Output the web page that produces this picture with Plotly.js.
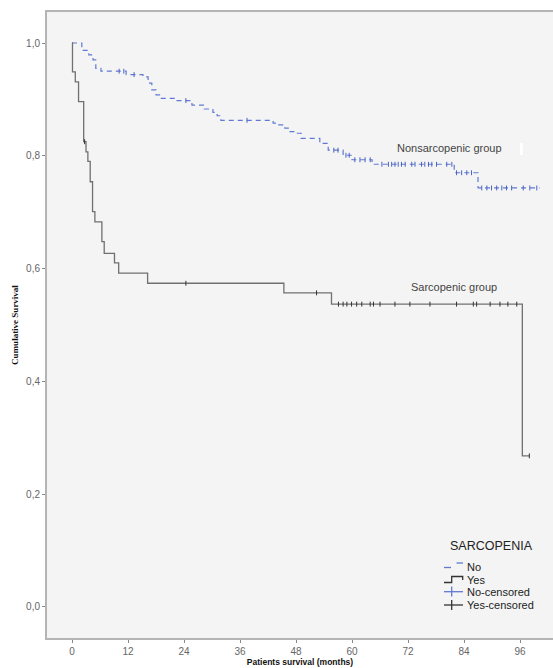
<!DOCTYPE html>
<html>
<head>
<meta charset="utf-8">
<script src="https://cdn.plot.ly/plotly-3.0.1.min.js"></script>
<style>html,body{margin:0;padding:0;background:#fff;}#chart{width:553px;height:668px;}</style>
</head>
<body>
<div id="chart"></div>
<script>
// ---- Data (months, cumulative survival) ----
const timesNo = [0, 2.1, 3.6, 4.5, 5.1, 6.2, 11.6, 15.2, 16.3, 17.1, 18.0, 18.9, 22.3, 25.7, 28.3, 30.2, 31.1, 31.9, 43.1, 43.9, 45.6, 46.5, 47.8, 49.1, 53.1, 54.9, 58.1, 60.0, 64.3, 81.9, 87.0];
const survNo  = [1.0, 0.987, 0.979, 0.970, 0.955, 0.950, 0.944, 0.940, 0.929, 0.917, 0.908, 0.902, 0.898, 0.890, 0.883, 0.877, 0.871, 0.863, 0.858, 0.855, 0.849, 0.843, 0.840, 0.831, 0.822, 0.810, 0.801, 0.793, 0.785, 0.770, 0.743];
const endNo = 100.2;
const censorNo = [10.1, 11.1, 13.3, 24.4, 37.5, 56.1, 57.0, 58.7, 59.4, 60.6, 61.7, 62.8, 63.9, 66.4, 67.8, 68.5, 69.2, 69.9, 70.6, 71.4, 72.8, 73.5, 74.9, 75.6, 76.4, 77.1, 78.1, 80.3, 81.4, 82.4, 83.5, 84.6, 85.6, 87.8, 88.9, 89.9, 91.0, 92.1, 93.1, 94.2, 96.7, 98.1, 99.6];

const timesYes = [0, 0.1, 0.7, 1.4, 2.5, 3.0, 3.4, 3.9, 4.4, 4.9, 6.4, 6.9, 9.1, 10.0, 16.2, 45.4, 55.6, 96.5];
const survYes  = [1.0, 0.949, 0.931, 0.896, 0.825, 0.807, 0.790, 0.754, 0.701, 0.683, 0.648, 0.627, 0.610, 0.592, 0.574, 0.557, 0.537, 0.268];
const endYes = 98.0;
const censorYes = [2.7, 24.4, 52.4, 57.1, 58.1, 58.9, 59.9, 61.0, 62.1, 63.9, 64.6, 66.0, 69.2, 72.4, 76.7, 82.4, 86.0, 86.7, 89.6, 91.7, 93.4, 95.3, 98.0];

const xTicks = [0, 12, 24, 36, 48, 60, 72, 84, 96];
const yTicks = [0, 0.2, 0.4, 0.6, 0.8, 1.0];

const legendTitle = "SARCOPENIA";
const legendLabels = ["No", "Yes", "No-censored", "Yes-censored"];
const groupLabels = ["Nonsarcopenic group", "Sarcopenic group"];

// ---- helpers ----
function stepAt(times, surv, t) {
  let s = surv[0];
  for (let i = 0; i < times.length; i++) { if (times[i] <= t) s = surv[i]; }
  return s;
}
const BLUE = '#6079d2';
const GREY = '#707070';

const traces = [
  {x: timesNo.concat([endNo]), y: survNo.concat([survNo[survNo.length-1]]), mode: 'lines',
   line: {shape: 'hv', color: BLUE, width: 1.2, dash: '5px,4px'}, showlegend: false, hoverinfo: 'skip'},
  {x: timesYes.concat([endYes]), y: survYes.concat([survYes[survYes.length-1]]), mode: 'lines',
   line: {shape: 'hv', color: GREY, width: 1.3}, showlegend: false, hoverinfo: 'skip'},
  {x: censorNo, y: censorNo.map(t => stepAt(timesNo, survNo, t)), mode: 'markers',
   marker: {symbol: 'line-ns', size: 3.5, line: {color: '#4a63c2', width: 1}}, showlegend: false, hoverinfo: 'skip'},
  {x: censorYes, y: censorYes.map(t => stepAt(timesYes, survYes, t)), mode: 'markers',
   marker: {symbol: 'line-ns', size: 3.5, line: {color: '#333', width: 1}}, showlegend: false, hoverinfo: 'skip'}
];

// pixel -> paper conversion for decorations
const L = 47, R = 553, T = 12, B = 638;
const px = x => (x - L) / (R - L);
const py = y => (B - y) / (B - T);

const shapes = [
  {type: 'rect', xref: 'paper', yref: 'paper', x0: px(520), x1: px(523), y0: py(155), y1: py(143), fillcolor: '#ffffff', line: {width: 0}},
  {type: 'line', xref: 'paper', yref: 'paper', x0: px(444), x1: px(451), y0: py(567.5), y1: py(567.5), line: {color: BLUE, width: 1.3}},
  {type: 'line', xref: 'paper', yref: 'paper', x0: px(456.5), x1: px(463), y0: py(563), y1: py(563), line: {color: BLUE, width: 1.3}},
  {type: 'path', xref: 'paper', yref: 'paper',
   path: `M${px(444)},${py(582.5)} L${px(451.7)},${py(582.5)} L${px(451.7)},${py(576.5)} L${px(462.7)},${py(576.5)} L${px(462.7)},${py(580)}`,
   line: {color: '#333', width: 1.3}},
  {type: 'line', xref: 'paper', yref: 'paper', x0: px(444), x1: px(463), y0: py(591.7), y1: py(591.7), line: {color: BLUE, width: 1.3}},
  {type: 'line', xref: 'paper', yref: 'paper', x0: px(451.7), x1: px(451.7), y0: py(586.5), y1: py(596.5), line: {color: BLUE, width: 1.3}},
  {type: 'line', xref: 'paper', yref: 'paper', x0: px(444), x1: px(463), y0: py(605), y1: py(605), line: {color: '#333', width: 1.3}},
  {type: 'line', xref: 'paper', yref: 'paper', x0: px(451.7), x1: px(451.7), y0: py(600), y1: py(610), line: {color: '#333', width: 1.3}}
];

const labFont = {family: 'Liberation Sans, Arial, sans-serif', size: 11, color: '#222'};
const annotations = [
  {xref: 'paper', yref: 'paper', x: px(449), y: py(148), text: groupLabels[0], showarrow: false, xanchor: 'center', yanchor: 'middle',
   font: {family: 'Liberation Sans, Arial, sans-serif', size: 11, color: '#444'}},
  {xref: 'paper', yref: 'paper', x: px(454), y: py(287), text: groupLabels[1], showarrow: false, xanchor: 'center', yanchor: 'middle',
   font: {family: 'Liberation Sans, Arial, sans-serif', size: 11, color: '#444'}},
  {xref: 'paper', yref: 'paper', x: px(491), y: py(546), text: legendTitle, showarrow: false, xanchor: 'center', yanchor: 'middle',
   font: {family: 'Liberation Sans, Arial, sans-serif', size: 12.5, color: '#222'}}
];
const legY = [567, 579.5, 592, 605];
legendLabels.forEach((lab, i) => annotations.push({xref: 'paper', yref: 'paper', x: px(465), y: py(legY[i]), text: lab,
  showarrow: false, xanchor: 'left', yanchor: 'middle', font: labFont}));

const tickFont = {family: 'Liberation Sans, Arial, sans-serif', size: 10, color: '#666'};
const layout = {
  width: 553, height: 668,
  margin: {l: L, r: 0, t: T, b: 668 - B, pad: 0},
  paper_bgcolor: '#ffffff', plot_bgcolor: '#f4f4f4',
  separators: ',.',
  showlegend: false,
  xaxis: {range: [-5.36, 103.07], tickvals: xTicks, ticktext: xTicks.map(String), ticks: 'outside', ticklen: 3, tickcolor: '#888', tickwidth: 1,
    showgrid: false, zeroline: false, showline: true, linecolor: '#b4b4b4', linewidth: 2, mirror: true, tickfont: tickFont,
    title: {text: 'Patients survival (months)', standoff: 2, font: {family: 'Liberation Sans, Arial, sans-serif', size: 8.5, color: '#111', weight: 'bold'}}},
  yaxis: {range: [-0.055, 1.055], tickvals: yTicks, tickformat: '.1f', ticks: 'outside', ticklen: 3, tickcolor: '#888', tickwidth: 1,
    showgrid: false, zeroline: false, showline: true, linecolor: '#b4b4b4', linewidth: 2, mirror: false, tickfont: tickFont,
    title: {text: 'Cumulative Survival', standoff: 6, font: {family: 'Liberation Serif, Times New Roman, serif', size: 9, color: '#111', weight: 'bold'}}},
  shapes: shapes,
  annotations: annotations
};

Plotly.newPlot('chart', traces, layout, {staticPlot: true, displayModeBar: false});
</script>
</body>
</html>
